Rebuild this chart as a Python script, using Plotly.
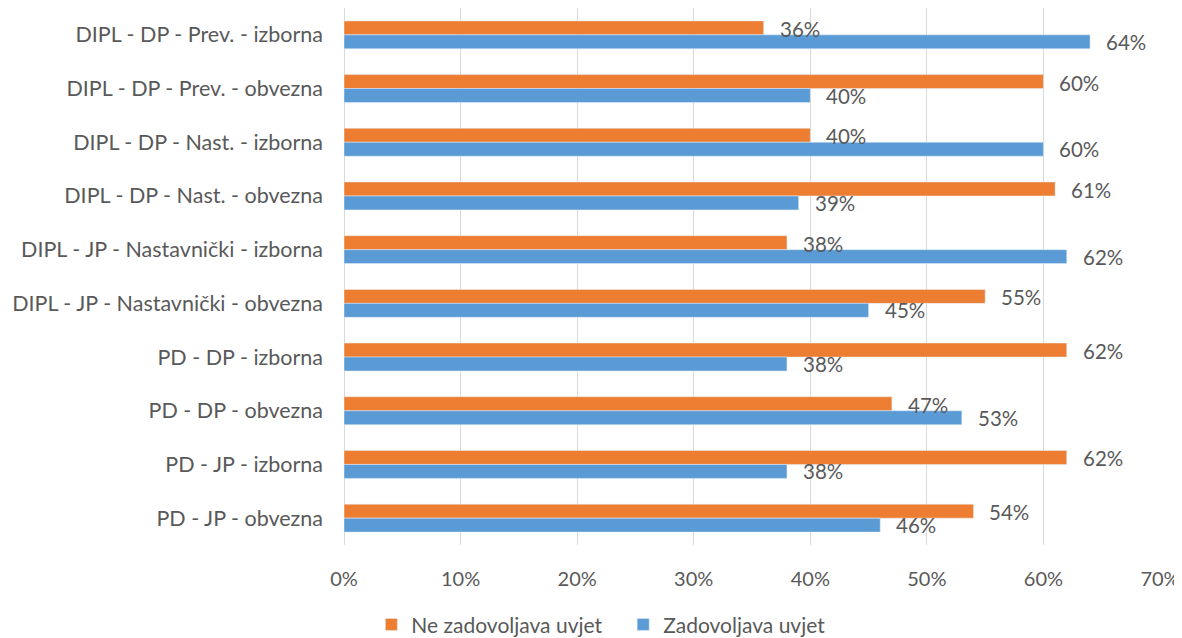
import plotly.graph_objects as go

categories = [
    "DIPL - DP - Prev. - izborna",
    "DIPL - DP - Prev. - obvezna",
    "DIPL - DP - Nast. - izborna",
    "DIPL - DP - Nast. - obvezna",
    "DIPL - JP - Nastavnički - izborna",
    "DIPL - JP - Nastavnički - obvezna",
    "PD - DP - izborna",
    "PD - DP - obvezna",
    "PD - JP - izborna",
    "PD - JP - obvezna",
]
ne_zadovoljava = [36, 60, 40, 61, 38, 55, 62, 47, 62, 54]
zadovoljava = [64, 40, 60, 39, 62, 45, 38, 53, 38, 46]
tick_vals = [0, 10, 20, 30, 40, 50, 60, 70]
tick_text = ["0%", "10%", "20%", "30%", "40%", "50%", "60%", "70%"]

ORANGE = "#ED7D31"
BLUE = "#5B9BD5"
TXT = "#595959"
FONT = "Lato"

fig = go.Figure()
fig.add_trace(go.Bar(y=categories, x=ne_zadovoljava, orientation="h",
                     name="Ne zadovoljava uvjet\u00a0\u00a0\u00a0", marker_color=ORANGE))
fig.add_trace(go.Bar(y=categories, x=zadovoljava, orientation="h",
                     name="Zadovoljava uvjet", marker_color=BLUE))

annotations = []
for cat, v in zip(categories, ne_zadovoljava):
    annotations.append(dict(x=v, y=cat, text=f"{v}%", showarrow=False,
                            xanchor="left", yanchor="middle", xshift=14, yshift=6,
                            font=dict(family=FONT, size=20.5, color=TXT)))
for cat, v in zip(categories, zadovoljava):
    annotations.append(dict(x=v, y=cat, text=f"{v}%", showarrow=False,
                            xanchor="left", yanchor="middle", xshift=14, yshift=-7,
                            font=dict(family=FONT, size=20.5, color=TXT)))

# page body has an 8px margin: figure is sized/offset to compensate
fig.update_layout(
    width=1174, height=630,
    margin=dict(l=336, r=22, t=0, b=93, autoexpand=False),
    barmode="group", bargap=0.48, bargroupgap=0,
    plot_bgcolor="white", paper_bgcolor="white",
    font=dict(family=FONT, size=20, color=TXT),
    annotations=annotations,
    legend=dict(orientation="h", xref="container", x=0.505, xanchor="center",
                yref="container", y=0.021, yanchor="middle",
                font=dict(family=FONT, size=21, color=TXT), itemwidth=30,
                traceorder="normal"),
    xaxis=dict(range=[0, 70], tickvals=tick_vals, ticktext=tick_text,
               showgrid=True, gridcolor="#D9D9D9", gridwidth=1,
               zeroline=True, zerolinecolor="#D9D9D9", zerolinewidth=1,
               showline=False, ticks="", ticklabelstandoff=20, automargin=False,
               tickfont=dict(family=FONT, size=20, color=TXT)),
    yaxis=dict(autorange="reversed", showgrid=False, showline=False, ticks="",
               ticklabelstandoff=20, automargin=False,
               tickfont=dict(family=FONT, size=21.5, color=TXT)),
)

fig.write_html("out.html")
